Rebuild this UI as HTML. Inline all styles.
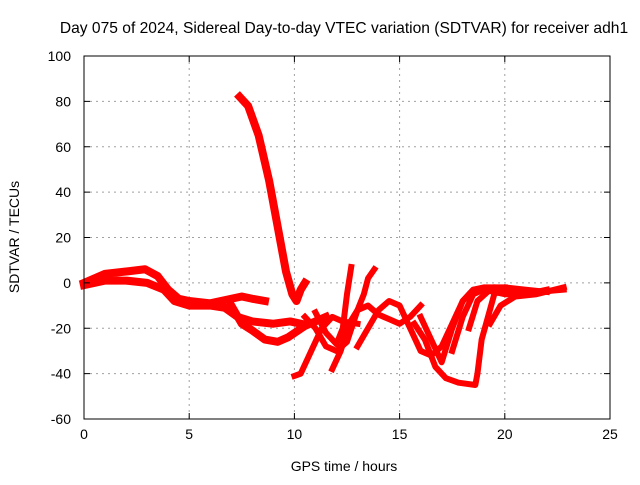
<!DOCTYPE html>
<html><head><meta charset="utf-8"><style>
body{margin:0;background:#fff}
svg text{font-family:"Liberation Sans",sans-serif;font-size:14px;fill:#000}
</style></head><body>
<svg id="chart" width="640" height="480" xmlns="http://www.w3.org/2000/svg">
<text x="344" y="33" text-anchor="middle" style="font-size:15.6px">Day 075 of 2024, Sidereal Day-to-day VTEC variation (SDTVAR) for receiver adh1</text>
<text x="344" y="471" text-anchor="middle">GPS time / hours</text>
<text transform="translate(19,237) rotate(-90)" text-anchor="middle">SDTVAR / TECUs</text>
<g id="grid"></g><g id="series"></g><g id="axes"></g>
</svg>
<script>
const xTicks=[0,5,10,15,20,25];
const yTicks=[-60,-40,-20,0,20,40,60,80,100];
const s1=[[0,0],[1,4],[2,5],[2.9,6],[3.5,3],[4,-3],[4.5,-7],[5,-8],[6,-9],[7,-7],[7.5,-6],[8,-7],[8.6,-8]];
const s2=[[0,-1],[1,1],[2,1],[3,0],[3.8,-3],[4.3,-8],[5,-10],[6,-10],[6.7,-11],[7.3,-15],[8,-17],[9,-18],[9.8,-17],[10.3,-18]];
const s3=[[7,-10],[7.5,-18],[8,-21],[8.6,-25],[9.2,-26],[9.7,-24],[10.5,-19],[11.5,-15]];
const s4=[[7.4,82],[7.8,78],[8.3,65],[8.8,45],[9.2,25],[9.6,5],[9.9,-5],[10.1,-8],[10.3,-3],[10.5,0]];
const s5=[[10,-41],[10.3,-40],[10.8,-30],[11.3,-20],[11.8,-15],[12.3,-17],[13,-18]];
const s6=[[10.5,-15],[11,-20],[11.5,-28],[12,-30],[12.5,-26],[13,-12],[13.3,-5],[13.5,2],[13.8,6]];
const s7=[[11,-13],[11.5,-22],[12,-27],[12.3,-20],[12.5,-5],[12.7,7]];
const s8=[[11.8,-38],[12.2,-30],[12.6,-18],[13,-12],[13.5,-10],[14,-14],[14.5,-16],[15,-18],[15.5,-15],[16,-10]];
const s9=[[13,-28],[13.5,-20],[14,-12],[14.5,-8],[15,-10],[15.5,-20],[16,-30],[16.5,-32],[17,-28],[17.5,-18],[18,-8],[18.5,-3],[19,-2],[20,-2]];
const s10=[[15.7,-18],[16.2,-25],[16.7,-37],[17.2,-42],[17.8,-44],[18.6,-45],[18.7,-40],[18.9,-25],[19.2,-15],[19.5,-5],[20,-2],[21,-3],[22,-4]];
const s11=[[16,-15],[16.5,-25],[17,-35],[17.5,-20],[18,-8],[18.5,-3],[19.5,-2],[20.5,-3],[21.5,-4],[22.8,-3]];
const s12=[[17.5,-30],[18,-15],[18.5,-5],[19,-3],[20,-5],[21,-5],[22,-3]];
const s13=[[18.3,-20],[18.7,-8],[19.3,-3]];
const s14=[[19.3,-18],[19.8,-10],[20.5,-6],[21.5,-5],[22.8,-2]];
const allSeries=[s1,s2,s3,s4,s5,s6,s7,s8,s9,s10,s11,s12,s13,s14];
const X0=84,X1=610,Y0=419,Y1=56;
function xs(h){return X0+(h-0)/(25-0)*(X1-X0);}
function ys(v){return Y0-(v+60)/(160)*(Y0-Y1);}
const NS="http://www.w3.org/2000/svg";
function mk(t,a,p){const e=document.createElementNS(NS,t);for(const k in a)e.setAttribute(k,a[k]);p.appendChild(e);return e;}
const grid=document.getElementById('grid'),axes=document.getElementById('axes'),ser=document.getElementById('series');
xTicks.forEach(t=>{const x=xs(t);
 if(t>0&&t<25){const g=mk('line',{x1:x,x2:x,y1:Y1,y2:Y0,stroke:'#a0a0a0','stroke-dasharray':'2,4'},grid);
 
 }
 const tl=mk('text',{x:x,y:Y0+20,'text-anchor':'middle'},axes);tl.textContent=t;
 
 
 mk('line',{x1:x,x2:x,y1:Y0,y2:Y0-6,stroke:'#000'},axes);mk('line',{x1:x,x2:x,y1:Y1,y2:Y1+6,stroke:'#000'},axes);});
yTicks.forEach(t=>{const y=ys(t);
 if(t>-60&&t<100){const g=mk('line',{x1:X0,x2:X1,y1:y,y2:y,stroke:'#a0a0a0','stroke-dasharray':'2,4'},grid);
 
 }
 const tl=mk('text',{x:X0-13,y:y+5,'text-anchor':'end'},axes);tl.textContent=t;
 
 
 mk('line',{x1:X0,x2:X0+6,y1:y,y2:y,stroke:'#000'},axes);mk('line',{x1:X1,x2:X1-6,y1:y,y2:y,stroke:'#000'},axes);});
const fr=mk('rect',{x:X0,y:Y1,width:X1-X0,height:Y0-Y1,fill:'none',stroke:'#000'},axes);


allSeries.forEach((s,i)=>{
 const p=mk('polyline',{points:s.map(d=>xs(d[0])+','+ys(d[1])).join(' '),fill:'none',stroke:'#ff0000','stroke-width':(i<4?8:6),'stroke-linejoin':'round','stroke-linecap':'square'},ser);
 
 
});
</script>
</body></html>
